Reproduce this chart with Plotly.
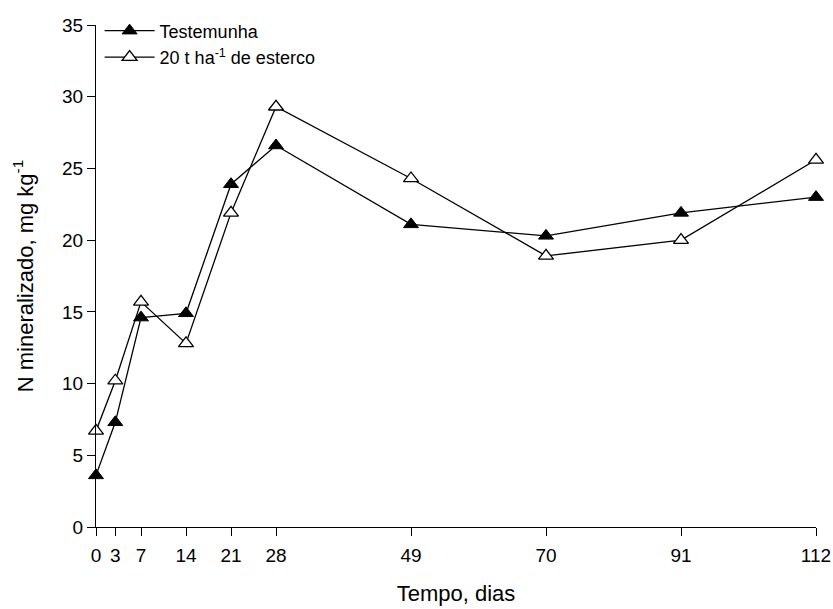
import plotly.graph_objects as go

# Incubation time (days) and mineralized N (mg kg-1)
dias = [0, 3, 7, 14, 21, 28, 49, 70, 91, 112]
testemunha = [3.6, 7.3, 14.6, 14.9, 23.9, 26.6, 21.1, 20.3, 21.9, 23.0]
esterco = [6.7, 10.2, 15.7, 12.8, 21.9, 29.3, 24.3, 18.9, 20.0, 25.6]
y_ticks = [0, 5, 10, 15, 20, 25, 30, 35]

fig = go.Figure()
fig.add_trace(go.Scatter(
    x=dias, y=testemunha, mode="lines+markers", name="Testemunha",
    line=dict(color="black", width=1.3),
    marker=dict(symbol="triangle-up", size=13, color="black",
                line=dict(color="black", width=1)),
    cliponaxis=False,
))
fig.add_trace(go.Scatter(
    x=dias, y=esterco, mode="lines+markers",
    name="20 t ha<sup>-1</sup> de esterco",
    line=dict(color="black", width=1.3),
    marker=dict(symbol="triangle-up", size=13, color="white",
                line=dict(color="black", width=1.3)),
    cliponaxis=False,
))

base_font = dict(family="Liberation Sans, Arial, sans-serif", size=19, color="black")

fig.update_layout(
    width=833, height=609,
    margin=dict(l=96, r=17, t=23, b=82),
    paper_bgcolor="white", plot_bgcolor="white",
    font=base_font,
    showlegend=True,
    legend=dict(x=0.005, y=1.025, xanchor="left", yanchor="top",
                bgcolor="rgba(0,0,0,0)", font=dict(size=18),
                tracegroupgap=0, itemwidth=50),
    xaxis=dict(
        range=[0, 112], tickmode="array", tickvals=dias,
        ticktext=[str(d) for d in dias],
        showline=True, linecolor="black", linewidth=1.3,
        ticks="outside", ticklen=8, tickwidth=1.3, tickcolor="black",
        ticklabelstandoff=3, automargin=False,
        showgrid=False, zeroline=False,
        title=dict(text="Tempo, dias", font=dict(size=22), standoff=20),
    ),
    yaxis=dict(
        range=[0, 35], tickmode="array", tickvals=y_ticks,
        showline=True, linecolor="black", linewidth=1.3,
        ticks="outside", ticklen=8, tickwidth=1.3, tickcolor="black",
        automargin=False,
        showgrid=False, zeroline=False,
        title=dict(text="N mineralizado, mg kg<sup>-1</sup>",
                   font=dict(size=22), standoff=22),
    ),
)

fig.write_html("out.html")
